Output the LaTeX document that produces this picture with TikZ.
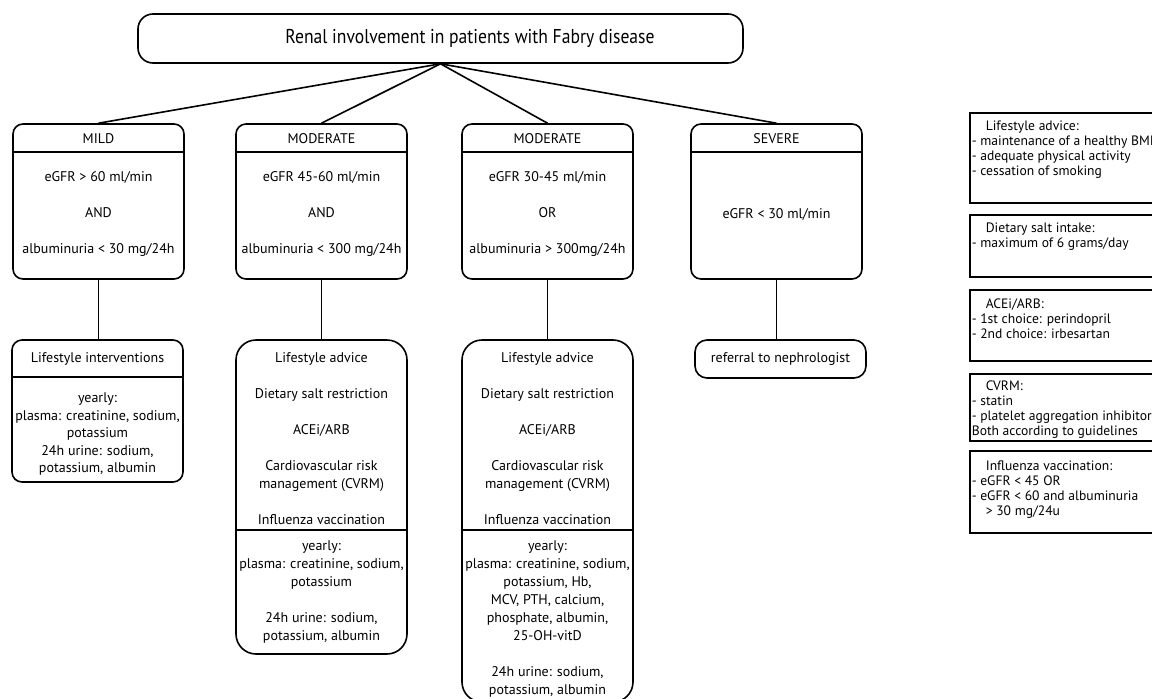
\documentclass[tikz,border=0pt]{standalone}
\usepackage{fontspec}
\setmainfont{PT Sans}
\usepackage{graphicx}
\usetikzlibrary{positioning}
\tikzset{
  stage/.style = {draw, line width=1.6pt, rounded corners=10pt, inner sep=0pt,
    minimum width=171pt},
  care/.style = {draw, line width=1.6pt, rounded corners=20pt, inner sep=0pt,
    minimum width=171pt},
  boxtext/.style = {align=center, inner sep=0pt, font=\fontsize{14}{18}\selectfont},
  legbox/.style = {draw, line width=1.6pt, inner sep=0pt, minimum width=200pt, anchor=north west},
  legtext/.style = {align=left, inner sep=0pt, anchor=west, font=\fontsize{13.6}{15}\selectfont},
}

\begin{document}
\begin{tikzpicture}[x=1pt,y=-1pt,line width=1.6pt]
\useasboundingbox (0,0) rectangle (1152,699);
\clip (0,0) rectangle (1152,699);

% root
\node[stage, rounded corners=15pt, minimum width=605pt, minimum height=49pt] (root) at (440.5,38.5) {};
\node[inner sep=0pt] (rootText) at (470,38) {\scalebox{0.88}[1]{\fontsize{20}{24}\selectfont Renal involvement in patients with Fabry disease}};

% stages
\node[stage, minimum height=155pt] (mild) at (98.5,201.5) {};
\node[stage, minimum height=155pt] (modA) at (321.5,201.5) {};
\node[stage, minimum height=155pt] (modB) at (547.5,201.5) {};
\node[stage, minimum height=155pt] (severe) at (776.5,201.5) {};
\foreach \s in {mild,modA,modB,severe}
  \draw ([yshift=-29pt]\s.north west) -- ([yshift=-29pt]\s.north east);

\node[boxtext] (mildHead) at (98.5,138.5) {MILD};
\node[boxtext] (mildBody) at (98.5,214) {eGFR > 60 ml/min\\[18pt]AND\\[18pt]albuminuria < 30 mg/24h};
\node[boxtext] (modAHead) at (321.5,138.5) {MODERATE};
\node[boxtext] (modABody) at (321.5,214) {eGFR 45-60 ml/min\\[18pt]AND\\[18pt]albuminuria < 300 mg/24h};
\node[boxtext] (modBHead) at (547.5,138.5) {MODERATE};
\node[boxtext] (modBBody) at (547.5,214) {eGFR 30-45 ml/min\\[18pt]OR\\[18pt]albuminuria > 300mg/24h};
\node[boxtext] (severeHead) at (776.5,138.5) {SEVERE};
\node[boxtext] (severeBody) at (776.5,214) {eGFR < 30 ml/min};

% treatment
\node[stage, minimum height=142pt] (mildCare) at (97.5,411) {};
\draw ([yshift=-38pt]mildCare.north west) -- ([yshift=-38pt]mildCare.north east);
\node[boxtext] (mildCareHead) at (97.5,359) {Lifestyle interventions};
\node[boxtext, font=\fontsize{14}{17.5}\selectfont] (mildCareBody) at (97.5,434)
  {yearly:\\plasma: creatinine, sodium,\\potassium\\24h urine: sodium,\\potassium, albumin};

\node[care, minimum height=314pt] (modACare) at (321.5,497) {};
\draw ([yshift=-191pt]modACare.north west) -- ([yshift=-191pt]modACare.north east);
\node[boxtext] (modACareHead) at (321.5,439) {Lifestyle advice\\[18pt]Dietary salt restriction\\[18pt]ACEi/ARB\\[18pt]Cardiovascular risk\\management (CVRM)\\[18pt]Influenza vaccination};
\node[boxtext] (modACareBody) at (321.5,592) {yearly:\\plasma: creatinine, sodium,\\potassium\\[18pt]24h urine: sodium,\\potassium, albumin};

\node[care, minimum height=362pt] (modBCare) at (547.5,521) {};
\draw ([yshift=-191pt]modBCare.north west) -- ([yshift=-191pt]modBCare.north east);
\node[boxtext] (modBCareHead) at (547.5,439) {Lifestyle advice\\[18pt]Dietary salt restriction\\[18pt]ACEi/ARB\\[18pt]Cardiovascular risk\\management (CVRM)\\[18pt]Influenza vaccination};
\node[boxtext] (modBCareBody) at (547.5,618.5) {yearly:\\plasma: creatinine, sodium,\\potassium, Hb,\\MCV, PTH, calcium,\\phosphate, albumin,\\25-OH-vitD\\[18pt]24h urine: sodium,\\potassium, albumin};

\node[stage, rounded corners=12pt, minimum height=38pt] (referral) at (780.5,359) {};
\node[boxtext] (referralText) at (referral.center) {referral to nephrologist};

% connectors
\foreach \s in {mild,modA,modB,severe}
  \draw (root.south) -- (\s.north);
\draw (mild.south) -- (mild.south |- mildCare.north);
\draw (modA.south) -- (modA.south |- modACare.north);
\draw (modB.south) -- (modB.south |- modBCare.north);
\draw (severe.south) -- (severe.south |- referral.north);

% legend
\node[legbox, minimum height=90pt] (lifeBox) at (969,112) {};
\node[legbox, minimum height=62pt] (saltBox) at (969,214) {};
\node[legbox, minimum height=71pt] (aceBox) at (969,289) {};
\node[legbox, minimum height=67pt] (cvrmBox) at (969,373) {};
\node[legbox, minimum height=82pt] (fluBox) at (969,450) {};

\node[legtext] (lifeText) at (971,149.5) {\hspace*{14pt}Lifestyle advice:\\- maintenance of a healthy BMI\\- adequate physical activity\\- cessation of smoking};
\node[legtext] (saltText) at (971,236.5) {\hspace*{14pt}Dietary salt intake:\\- maximum of 6 grams/day};
\node[legtext] (aceText) at (971,319) {\hspace*{14pt}ACEi/ARB:\\- 1st choice: perindopril\\- 2nd choice: irbesartan};
\node[legtext] (cvrmText) at (971,409.5) {\hspace*{14pt}CVRM:\\- statin\\- platelet aggregation inhibitor\\Both according to guidelines};
\node[legtext] (fluText) at (971,489.5) {\hspace*{14pt}Influenza vaccination:\\- eGFR < 45 OR\\- eGFR < 60 and albuminuria\\\hspace*{14pt}> 30 mg/24u};
\end{tikzpicture}
\end{document}
